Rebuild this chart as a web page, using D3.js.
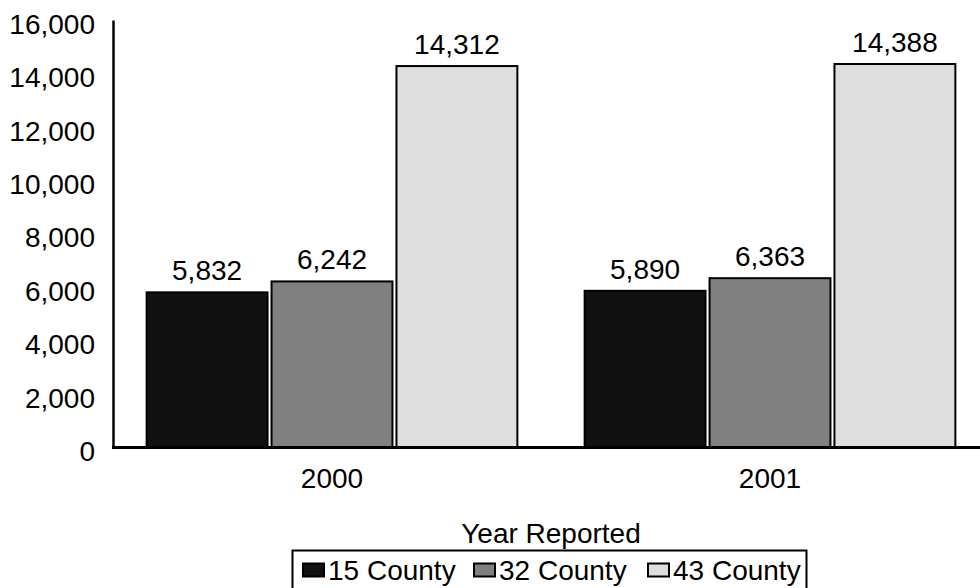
<!DOCTYPE html>
<html>
<head>
<meta charset="utf-8">
<script src="https://cdn.jsdelivr.net/npm/d3@7"></script>
<style>
  html, body { margin: 0; padding: 0; background: #fff; }
  svg { display: block; font-family: "Liberation Sans", Arial, sans-serif; }
</style>
</head>
<body>
<svg id="chart" width="980" height="588"></svg>
<script>
// data
const years = ['2000', '2001'];
const seriesNames = ['15 County', '32 County', '43 County'];
const county15 = [5832, 5890];
const county32 = [6242, 6363];
const county43 = [14312, 14388];
const yTicks = [0, 2000, 4000, 6000, 8000, 10000, 12000, 14000, 16000];
const seriesColors = ['#111111', '#808080', '#dedede'];

const seriesValues = [county15, county32, county43];
const rows = years.map((yr, i) => ({
  year: yr,
  vals: seriesNames.map((s, j) => ({ series: s, value: seriesValues[j][i] }))
}));

const svg = d3.select('#chart');
const width = 980, height = 588;
const margin = { top: 20, right: -9, bottom: 141, left: 113 };
const plotBottom = height - margin.bottom;   // 447

const x0 = d3.scaleBand()
  .domain(years)
  .range([margin.left, width - margin.right])
  .paddingInner(0.149)
  .paddingOuter(0.0745);

const x1 = d3.scaleBand()
  .domain(seriesNames)
  .range([0, x0.bandwidth()])
  .paddingInner(0.016);

const y = d3.scaleLinear()
  .domain([0, 16000])
  .range([plotBottom, margin.top]);

const color = d3.scaleOrdinal().domain(seriesNames).range(seriesColors);
const fmt = d3.format(',');

// bars
const groups = svg.append('g')
  .selectAll('g')
  .data(rows)
  .enter().append('g')
    .attr('transform', d => `translate(${x0(d.year)},0)`);

groups.selectAll('rect')
  .data(d => d.vals)
  .enter().append('rect')
    .attr('x', d => x1(d.series) + 1)
    .attr('y', d => y(d.value) + 1)
    .attr('width', x1.bandwidth() - 2)
    .attr('height', d => y(0) - y(d.value) - 1)
    .attr('fill', d => color(d.series))
    .attr('stroke', '#000')
    .attr('stroke-width', 2);

// value labels
groups.selectAll('text')
  .data(d => d.vals)
  .enter().append('text')
    .attr('x', d => x1(d.series) + x1.bandwidth() / 2)
    .attr('y', d => y(d.value) - 11)
    .attr('text-anchor', 'middle')
    .attr('font-size', 28)
    .attr('fill', '#000')
    .text(d => fmt(d.value));

// y axis
const yAxis = svg.append('g')
  .attr('transform', `translate(${margin.left},0)`)
  .call(d3.axisLeft(y).tickValues(yTicks).tickFormat(fmt).tickSize(0).tickPadding(18));
yAxis.select('.domain').attr('stroke', '#000').attr('stroke-width', 2.5);
yAxis.selectAll('text')
  .attr('font-size', 28)
  .attr('font-family', '"Liberation Sans", Arial, sans-serif')
  .attr('fill', '#000')
  .attr('dy', '0.48em');

// x axis
const xAxis = svg.append('g')
  .attr('transform', `translate(0,${plotBottom})`)
  .call(d3.axisBottom(x0).tickSize(0).tickPadding(21));
xAxis.select('.domain').remove();
xAxis.selectAll('text')
  .attr('font-size', 28)
  .attr('font-family', '"Liberation Sans", Arial, sans-serif')
  .attr('fill', '#000');

svg.append('line')
  .attr('x1', margin.left - 1).attr('x2', width)
  .attr('y1', plotBottom + 0.5).attr('y2', plotBottom + 0.5)
  .attr('stroke', '#000')
  .attr('stroke-width', 3);

// axis title
svg.append('text')
  .attr('x', (margin.left + width - margin.right) / 2)
  .attr('y', 543)
  .attr('text-anchor', 'middle')
  .attr('font-size', 28)
  .text('Year Reported');

// legend (centred under the plot, runs past the bottom edge)
const legend = svg.append('g');
legend.append('rect')
  .attr('x', 292.5).attr('y', 550.5)
  .attr('width', 514).attr('height', 42)
  .attr('fill', '#fff')
  .attr('stroke', '#000')
  .attr('stroke-width', 2);

const legendX = [302, 473, 647];
const items = legend.selectAll('g.item')
  .data(seriesNames)
  .enter().append('g')
    .attr('class', 'item')
    .attr('transform', (d, i) => `translate(${legendX[i]},0)`);

items.append('rect')
  .attr('x', 1).attr('y', 563.5)
  .attr('width', 21).attr('height', 13)
  .attr('fill', d => color(d))
  .attr('stroke', '#000')
  .attr('stroke-width', 2);

items.append('text')
  .attr('x', 26)
  .attr('y', 580)
  .attr('font-size', 28)
  .text(d => d);
</script>
</body>
</html>
